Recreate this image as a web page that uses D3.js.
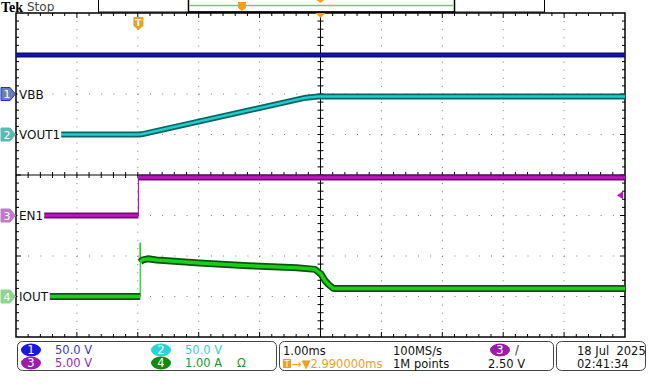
<!DOCTYPE html>
<html>
<head>
<meta charset="utf-8">
<script src="https://cdn.jsdelivr.net/npm/d3@7"></script>
<style>
  body { margin: 0; background: #fff; }
  svg { display: block; font-family: "DejaVu Sans", sans-serif; }
</style>
</head>
<body>
<svg width="649" height="389"></svg>
<script>
// time in ms relative to trigger, values in channel units
const ch1Time = [-2.01, 7.99]
const ch1Vals = [48, 48]                       // VBB, V
const ch2Time = [-1.37, 0.0, 0.05, 2.75, 2.95, 7.99]
const ch2Vals = [0, 0, 0.2, 45.5, 47, 47]      // VOUT1, V
const ch3Time = [-1.6, 0.0, 0.0, 7.99]
const ch3Vals = [0, 0, 4.7, 4.7]               // EN1, V
const ch4Time = [-1.55, 0.03, 0.03, 0.03, 0.06, 0.15, 0.3, 1.0, 1.8, 2.6, 2.9, 3.0, 3.06, 3.12, 3.2, 7.99]
const ch4Vals = [0, 0, 1.33, 0.85, 0.9, 0.93, 0.9, 0.83, 0.76, 0.71, 0.67, 0.55, 0.4, 0.3, 0.2, 0.2] // IOUT, A

const channels = [
  {id: 1, name: "VBB",   t: ch1Time, v: ch1Vals, scale: 50, pos: 2,  outer: "#0c0c80", inner: "#1a1ab0", w: 3, markFill: "#6b7fb0", markStroke: "#2030d0"},
  {id: 2, name: "VOUT1", t: ch2Time, v: ch2Vals, scale: 50, pos: 1,  outer: "#0a6464", inner: "#22cccc", w: 4, markFill: "#5fb8b4", markStroke: "#5fb8b4"},
  {id: 3, name: "EN1",   t: ch3Time, v: ch3Vals, scale: 5,  pos: -1, outer: "#760a76", inner: "#c414c4", w: 4, markFill: "#c07ac8", markStroke: "#c07ac8"},
  {id: 4, name: "IOUT",  t: ch4Time, v: ch4Vals, scale: 1,  pos: -3, outer: "#0a560a", inner: "#18d018", w: 5, markFill: "#8fd48f", markStroke: "#8fd48f"}
]

const timePerDiv = 1.0, trigDelay = 2.99
const x0 = 16, x1 = 625, y0 = 13, y1 = 337

const x = d3.scaleLinear().domain([trigDelay - 5 * timePerDiv, trigDelay + 5 * timePerDiv]).range([x0, x1])
const y = d3.scaleLinear().domain([-4, 4]).range([y1, y0])   // divisions
const divX = (x1 - x0) / 10, divY = (y1 - y0) / 8

const svg = d3.select("svg")

// graticule dotted lines
const grid = svg.append("g")
grid.selectAll("line.v").data(d3.range(-4, 5).filter(d => d !== 0)).join("line")
  .attr("x1", d => x(trigDelay + d)).attr("x2", d => x(trigDelay + d))
  .attr("y1", y0).attr("y2", y1)
  .attr("stroke", "#777").attr("stroke-dasharray", `1,${divY / 5 - 1}`)
grid.selectAll("line.h").data(d3.range(-3, 4).filter(d => d !== 0)).join("line")
  .attr("x1", x0).attr("x2", x1)
  .attr("y1", d => y(d)).attr("y2", d => y(d))
  .attr("stroke", "#777").attr("stroke-dasharray", `1,${divX / 5 - 1}`)

// center cross
const xc = x(trigDelay), yc = y(0)
grid.append("line").attr("x1", xc).attr("x2", xc).attr("y1", y0).attr("y2", y1).attr("stroke", "#000")
grid.append("line").attr("x1", x0).attr("x2", x1).attr("y1", yc).attr("y2", yc).attr("stroke", "#000")
const minorX = d3.range(1, 50).map(i => x0 + i * divX / 5)
const minorY = d3.range(1, 40).map(i => y0 + i * divY / 5)
grid.selectAll("line.cx").data(minorY).join("line")
  .attr("x1", xc - 3).attr("x2", xc + 3).attr("y1", d => d).attr("y2", d => d).attr("stroke", "#000")
grid.selectAll("line.cy").data(minorX).join("line")
  .attr("y1", yc - 3).attr("y2", yc + 3).attr("x1", d => d).attr("x2", d => d).attr("stroke", "#000")
// border ticks
grid.selectAll("line.tt").data(minorX).join("line")
  .attr("x1", d => d).attr("x2", d => d).attr("y1", y0).attr("y2", (d, i) => y0 + ((i + 1) % 5 ? 3 : 5)).attr("stroke", "#000")
grid.selectAll("line.tb").data(minorX).join("line")
  .attr("x1", d => d).attr("x2", d => d).attr("y1", y1).attr("y2", (d, i) => y1 - ((i + 1) % 5 ? 3 : 5)).attr("stroke", "#000")
grid.selectAll("line.tl").data(minorY).join("line")
  .attr("y1", d => d).attr("y2", d => d).attr("x1", x0).attr("x2", (d, i) => x0 + ((i + 1) % 5 ? 3 : 5)).attr("stroke", "#000")
grid.selectAll("line.tr").data(minorY).join("line")
  .attr("y1", d => d).attr("y2", d => d).attr("x1", x1).attr("x2", (d, i) => x1 - ((i + 1) % 5 ? 3 : 5)).attr("stroke", "#000")
grid.append("rect").attr("x", x0).attr("y", y0).attr("width", x1 - x0).attr("height", y1 - y0)
  .attr("fill", "none").attr("stroke", "#000").attr("stroke-width", 1.5)

// split a trace into flat runs and vertical edges (same time)
function split(pts) {
  const flats = [], edges = []
  let cur = [pts[0]]
  for (let i = 1; i < pts.length; i++) {
    const p = pts[i - 1], q = pts[i]
    if (q[0] === p[0]) { edges.push([p, q]); if (cur.length > 1) flats.push(cur); cur = [q] }
    else cur.push(q)
  }
  if (cur.length > 1) flats.push(cur)
  return {flats, edges}
}

const traces = svg.append("g")
channels.forEach(ch => {
  const line = d3.line().x(d => x(d[0])).y(d => y(d[1] / ch.scale + ch.pos))
  const pts = ch.t.map((t, i) => [t, ch.v[i]])
  const s = split(pts)
  s.edges.forEach(e => traces.append("path").attr("d", line(e)).attr("fill", "none")
    .attr("stroke", ch.inner).attr("stroke-width", 1.2))
  s.flats.forEach(f => {
    traces.append("path").attr("d", line(f)).attr("fill", "none")
      .attr("stroke", ch.outer).attr("stroke-width", ch.w + 2).attr("stroke-linejoin", "round")
    traces.append("path").attr("d", line(f)).attr("fill", "none")
      .attr("stroke", ch.inner).attr("stroke-width", ch.w - 1.5).attr("stroke-linejoin", "round")
  })
})

// channel markers and labels
const marks = svg.append("g")
channels.forEach(ch => {
  const yy = y(ch.pos)
  marks.append("path")
    .attr("d", `M1,${yy - 6.5} H10 L15.5,${yy} L10,${yy + 6.5} H1 Z`)
    .attr("fill", ch.markFill).attr("stroke", ch.markStroke).attr("stroke-width", 1)
  marks.append("text").attr("x", 7).attr("y", yy + 4).attr("text-anchor", "middle")
    .attr("fill", "#fff").attr("font-size", 11).text(ch.id)
  const lab = marks.append("text").attr("x", 19).attr("y", yy + 4.5)
    .attr("font-size", 12).attr("fill", "#111").text(ch.name)
  const bb = lab.node().getBBox()
  marks.insert("rect", "text:last-child").attr("x", 17.5).attr("y", bb.y)
    .attr("width", bb.width + 2.5).attr("height", bb.height).attr("fill", "#fff")
})

// trigger level arrow (ch3, 2.5 V)
const trigY = y(2.5 / 5 + -1)
svg.append("path").attr("d", `M617,${trigY} L623,${trigY - 4} L623,${trigY + 4} Z`).attr("fill", "#c010c0")

// trigger position marker
const tx = x(0)
const orange = "#f0a020"
svg.append("path").attr("d", `M${tx - 5},17 H${tx + 5} V26 L${tx},30 L${tx - 5},26 Z`).attr("fill", orange)
svg.append("text").attr("x", tx).attr("y", 26).attr("text-anchor", "middle").attr("fill", "#fff")
  .attr("font-size", 9).attr("font-weight", "bold").text("T")
svg.append("path").attr("d", `M${xc - 5},13 H${xc + 5} L${xc},18 Z`).attr("fill", orange)

// top status bar
svg.append("text").attr("x", 1).attr("y", 12).attr("font-family", "'Liberation Serif', serif")
  .attr("font-weight", "bold").attr("font-size", 14).attr("fill", "#000").text("Tek")
svg.append("text").attr("x", 27).attr("y", 11).attr("font-size", 12).attr("fill", "#444").text("Stop")
svg.append("rect").attr("x", 98.5).attr("y", -1).attr("width", 446).attr("height", 13)
  .attr("fill", "#fff").attr("stroke", "#000")
svg.append("rect").attr("x", 188.5).attr("y", -1).attr("width", 266).attr("height", 13)
  .attr("fill", "none").attr("stroke", "#000").attr("stroke-width", 1.5)
svg.append("line").attr("x1", 190).attr("x2", 453).attr("y1", 5.5).attr("y2", 5.5)
  .attr("stroke", "#7cc47c").attr("stroke-width", 1.5)
svg.append("path").attr("d", "M238,2 H246 V8 L242,11 L238,8 Z").attr("fill", orange)
svg.append("path").attr("d", `M${xc - 4},0 H${xc + 4} L${xc},3 Z`).attr("fill", orange)

// bottom readout panels
const pan = svg.append("g").attr("font-size", 11.5)
pan.append("rect").attr("x", 17.5).attr("y", 341.5).attr("width", 259).attr("height", 29).attr("rx", 5)
  .attr("fill", "none").attr("stroke", "#444")
pan.append("rect").attr("x", 279.5).attr("y", 341.5).attr("width", 274).attr("height", 29).attr("rx", 5)
  .attr("fill", "none").attr("stroke", "#444")
pan.append("rect").attr("x", 556.5).attr("y", 341.5).attr("width", 89).attr("height", 29).attr("rx", 5)
  .attr("fill", "none").attr("stroke", "#444")

const badges = [
  {n: "1", cx: 31, cy: 350, fill: "#1818e0", txt: "50.0 V", tx: 55, col: "#3a3ac8"},
  {n: "3", cx: 31, cy: 363, fill: "#9a1ea8", txt: "5.00 V", tx: 55, col: "#9a2aa8"},
  {n: "2", cx: 161, cy: 350, fill: "#28d4d4", txt: "50.0 V", tx: 185, col: "#40cccc"},
  {n: "4", cx: 161, cy: 363, fill: "#108a10", txt: "1.00 A", tx: 185, col: "#1a9a1a"},
  {n: "3", cx: 500, cy: 350, fill: "#9a1ea8", txt: "/", tx: 515, col: "#333"}
]
badges.forEach(b => {
  pan.append("ellipse").attr("cx", b.cx).attr("cy", b.cy).attr("rx", 10).attr("ry", 6.5).attr("fill", b.fill)
  pan.append("text").attr("x", b.cx).attr("y", b.cy + 4).attr("text-anchor", "middle").attr("fill", "#fff").text(b.n)
  pan.append("text").attr("x", b.tx).attr("y", b.cy + 4).attr("fill", b.col).text(b.txt)
})
pan.append("text").attr("x", 237).attr("y", 367).attr("fill", "#1a9a1a").text("Ω")
pan.append("text").attr("x", 283).attr("y", 355).attr("fill", "#111").text("1.00ms")
pan.append("rect").attr("x", 283).attr("y", 359).attr("width", 8).attr("height", 9).attr("fill", orange)
pan.append("text").attr("x", 287).attr("y", 367).attr("text-anchor", "middle").attr("font-size", 8).attr("fill", "#fff").text("T")
pan.append("text").attr("x", 292).attr("y", 368).attr("fill", orange).text("→▼" + trigDelay.toFixed(6) + "ms")
pan.append("text").attr("x", 393).attr("y", 355).attr("fill", "#111").text("100MS/s")
pan.append("text").attr("x", 393).attr("y", 368).attr("fill", "#111").text("1M points")
pan.append("text").attr("x", 488).attr("y", 368).attr("fill", "#111").text("2.50 V")
pan.append("text").attr("x", 577).attr("y", 355).attr("fill", "#111").attr("xml:space", "preserve").text("18 Jul  2025")
pan.append("text").attr("x", 577).attr("y", 368).attr("fill", "#111").text("02:41:34")
</script>
</body>
</html>
